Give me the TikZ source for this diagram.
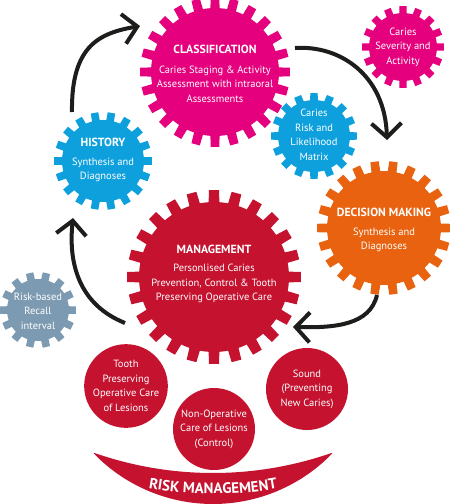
\documentclass[tikz,border=0pt]{standalone}
\usepackage{fontspec}
\setmainfont{PT Sans}
\usetikzlibrary{arrows.meta,decorations.text}
\definecolor{cmag}{HTML}{E5007D}
\definecolor{cblue}{HTML}{0EA0DD}
\definecolor{corange}{HTML}{E8620F}
\definecolor{ccrim}{HTML}{C4122F}
\definecolor{cgrey}{HTML}{7C9AB1}
\definecolor{carrow}{HTML}{1D1D1B}
% #1 x, #2 y, #3 body radius, #4 outer radius, #5 teeth, #6 colour, #7 angle offset
\newcommand\drawgear[7]{%
  \begin{scope}[shift={(#1,#2)}]
    \fill[#6] (0,0) circle (#3);
    \pgfmathsetmacro\gp{360/#5}
    \foreach \k in {1,...,#5}{
      \pgfmathsetmacro\ga{\k*\gp+#7}
      \fill[#6] ({\ga-0.28*\gp}:{#3-1}) -- ({\ga-0.22*\gp}:{#4}) -- ({\ga+0.22*\gp}:{#4}) -- ({\ga+0.28*\gp}:{#3-1}) -- cycle;
    }
  \end{scope}}
\newcommand\hd[1]{{\fontsize{11.8}{14.5}\selectfont\bfseries #1}}
\begin{document}
\begin{tikzpicture}[x=1pt,y=-1pt,
  txt/.style={text=white, align=center, font=\fontsize{10.5}{14.5}\selectfont, inner sep=0pt},
  bubble/.style={circle, fill=ccrim, minimum size=82pt, inner sep=0pt, text=white, align=center, font=\fontsize{10.5}{14.5}\selectfont},
  flow/.style={draw=carrow, line width=4pt, -{Straight Barb[length=14pt,width=30pt]}}]
\useasboundingbox (0,0) rectangle (450,504);
% gears
\drawgear{215}{72}{64}{75}{24}{cmag}{0}
\drawgear{403}{47}{34}{41}{16}{cmag}{0}
\drawgear{103}{161}{41}{49}{18}{cblue}{0}
\drawgear{314}{136}{36}{43}{16}{cblue}{0}
\drawgear{384}{228}{57}{67}{22}{corange}{0}
\drawgear{214}{277}{75}{87}{24}{ccrim}{0}
\drawgear{38}{310}{31}{38}{14}{cgrey}{0}
% gear texts
\node[txt] (cls) at (215,74) {\hd{CLASSIFICATION}\\[5pt]Caries Staging \& Activity\\Assessment with intraoral\\Assessments};
\node[txt] (sev) at (403,47) {Caries\\Severity and\\Activity};
\node[txt] (hist) at (103,160) {\hd{HISTORY}\\[4pt]Synthesis and\\Diagnoses};
\node[txt] (risk) at (314,135) {Caries\\Risk and\\Likelihood\\Matrix};
\node[txt] (dec) at (384,230) {\hd{DECISION MAKING}\\[4pt]Synthesis and\\Diagnoses};
\node[txt] (mgmt) at (214,274) {\hd{MANAGEMENT}\\[4pt]Personlised Caries\\Prevention, Control \& Tooth\\Preserving Operative Care};
\node[txt] (recall) at (38,311) {Risk-based\\Recall\\interval};
% bubbles
\node[bubble] (tooth) at (126,386) {Tooth\\Preserving\\Operative Care\\of Lesions};
\node[bubble] (nonop) at (214,429) {Non-Operative\\Care of Lesions\\(Control)};
\node[bubble] (sound) at (307,389) {Sound\\(Preventing\\New Caries)};
% risk management band
\fill[ccrim] plot[domain=136:44,samples=60] ({213+166*cos(\x)},{338+166*sin(\x)})
  -- plot[domain=70.9:109.1,samples=60] ({213+361*cos(\x)},{112+361*sin(\x)}) -- cycle;
\path[decorate, decoration={text along path, text align=center,
  text={|\fontsize{15}{15}\selectfont\bfseries\color{white}|RISK MANAGEMENT}}]
  plot[domain=105:75,samples=60] ({213+380*cos(\x)},{114+380*sin(\x)});
% arrows
\coordinate (a1s) at (72,112); \coordinate (a1e) at (140,26);
\coordinate (a2s) at (295,48); \coordinate (a2e) at (387,140);
\coordinate (a3s) at (377,295); \coordinate (a3e) at (293,327);
\coordinate (a4s) at (125,323); \coordinate (a4e) at (73,218);
\draw[flow] (a1s) .. controls (71,45) and (100,33) .. (a1e);
\draw[flow] (a2s) .. controls (340,45) and (385,75) .. (a2e);
\draw[flow] (a3s) .. controls (370,325) and (335,328) .. (a3e);
\draw[flow] (a4s) .. controls (80,305) and (68,265) .. (a4e);
\end{tikzpicture}
\end{document}
